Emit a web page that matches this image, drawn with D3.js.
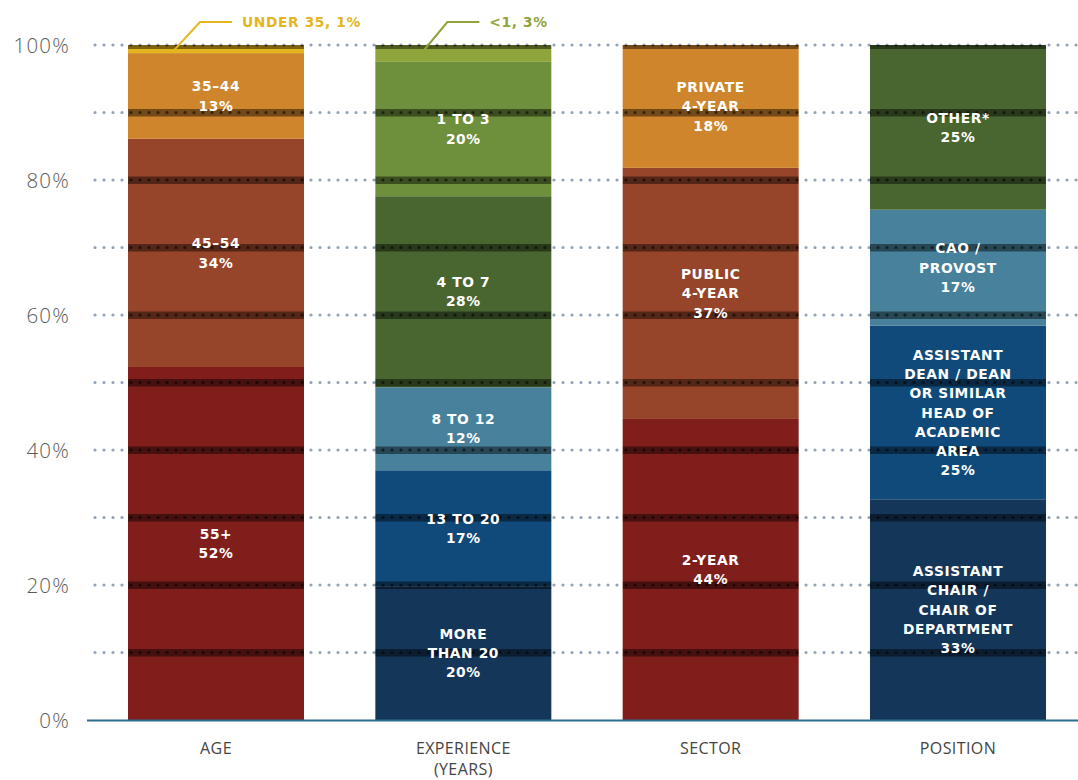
<!DOCTYPE html>
<html><head><meta charset="utf-8">
<script src="https://cdn.jsdelivr.net/npm/d3@7"></script>
<style>
body{margin:0;background:#fff;}
svg{display:block;}
</style></head>
<body>
<svg id="chart" width="1078" height="780"></svg>
<script>
// ---- DATA ----
const groups = ["AGE", "EXPERIENCE (YEARS)", "SECTOR", "POSITION"];
const groupLabels = [["AGE"], ["EXPERIENCE", "(YEARS)"], ["SECTOR"], ["POSITION"]];

const ageCategories = ["55+", "45–54", "35–44", "UNDER 35"];
const ageValues = [52.3, 33.8, 12.7, 1.2];
const ageLabels = [["55+", "52%"], ["45–54", "34%"], ["35–44", "13%"], null];

const expCategories = ["MORE THAN 20", "13 TO 20", "8 TO 12", "4 TO 7", "1 TO 3", "<1"];
const expValues = [19.8, 17.2, 12.3, 28.3, 19.9, 2.5];
const expLabels = [["MORE", "THAN 20", "20%"], ["13 TO 20", "17%"], ["8 TO 12", "12%"], ["4 TO 7", "28%"], ["1 TO 3", "20%"], null];

const sectorCategories = ["2-YEAR", "PUBLIC 4-YEAR", "PRIVATE 4-YEAR"];
const sectorValues = [44.6, 37.2, 18.2];
const sectorLabels = [["2-YEAR", "44%"], ["PUBLIC", "4-YEAR", "37%"], ["PRIVATE", "4-YEAR", "18%"]];

const positionCategories = ["CHAIR", "DEAN", "CAO", "OTHER"];
const positionValues = [32.7, 25.7, 17.2, 24.4];
const positionLabels = [["ASSISTANT", "CHAIR /", "CHAIR OF", "DEPARTMENT", "33%"],
  ["ASSISTANT", "DEAN / DEAN", "OR SIMILAR", "HEAD OF", "ACADEMIC", "AREA", "25%"],
  ["CAO /", "PROVOST", "17%"], ["OTHER*", "25%"]];

const ageColors = ["#7f1e1b", "#97452a", "#cf852b", "#e4b51f"];
const expColors = ["#143659", "#0f4a7a", "#48819c", "#4a6630", "#6e8f3b", "#8fa43b"];
const sectorColors = ["#7f1e1b", "#97452a", "#cf852b"];
const positionColors = ["#143659", "#0f4a7a", "#48819c", "#4a6630"];

const yTicks = [0, 20, 40, 60, 80, 100];
const gridValues = [10, 20, 30, 40, 50, 60, 70, 80, 90, 100];

const annotations = [
  {group: "AGE", text: "UNDER 35, 1%", color: "#e4b51f", value: 99.5},
  {group: "EXPERIENCE (YEARS)", text: "<1, 3%", color: "#8fa43b", value: 99.0}
];

// ---- BUILD ----
const allSeries = [
  {values: ageValues, labels: ageLabels, colors: ageColors},
  {values: expValues, labels: expLabels, colors: expColors},
  {values: sectorValues, labels: sectorLabels, colors: sectorColors},
  {values: positionValues, labels: positionLabels, colors: positionColors}
];

const LABEL_FONT = "'DejaVu Sans', sans-serif";
const svg = d3.select("#chart");
const y = d3.scaleLinear().domain([0, 100]).range([720, 45]);
const x = d3.scaleBand().domain(groups).range([92, 1082]).paddingInner(0.2884).paddingOuter(0.1456);

// grey dotted gridlines (background)
const gridG = svg.append("g");
gridValues.forEach(v => {
  gridG.append("line")
    .attr("x1", 95).attr("x2", 1078)
    .attr("y1", y(v)).attr("y2", y(v))
    .attr("stroke", "#8fa4b9").attr("stroke-width", 3.2)
    .attr("stroke-linecap", "round")
    .attr("stroke-dasharray", "0,9");
});

// bars
allSeries.forEach((s, gi) => {
  const g = groups[gi];
  let cum = 0;
  const segs = s.values.map((v, i) => {
    const seg = {y0: cum, y1: cum + v, color: s.colors[i], label: s.labels[i]};
    cum += v;
    return seg;
  });
  const total = cum;
  segs.forEach(sg => { sg.y0 = sg.y0 / total * 100; sg.y1 = sg.y1 / total * 100; });
  const bg = svg.append("g");
  const clipId = "clip" + gi;
  svg.append("clipPath").attr("id", clipId).append("rect")
    .attr("x", x(g)).attr("width", x.bandwidth())
    .attr("y", y(100)).attr("height", y(0) - y(100));
  bg.selectAll("rect.seg").data(segs).join("rect")
    .attr("class", "seg")
    .attr("x", x(g)).attr("width", x.bandwidth())
    .attr("y", d => y(d.y1)).attr("height", d => y(d.y0) - y(d.y1))
    .attr("fill", d => d.color);
  // dark bands over bars
  const band = bg.append("g").attr("clip-path", `url(#${clipId})`);
  gridValues.forEach(v => {
    band.append("rect")
      .attr("x", x(g)).attr("width", x.bandwidth())
      .attr("y", y(v) - 3.5).attr("height", 7.5)
      .attr("fill", "#000").attr("fill-opacity", 0.45);
    band.append("line")
      .attr("x1", 95).attr("x2", 1078)
      .attr("y1", y(v)).attr("y2", y(v))
      .attr("stroke", "#000").attr("stroke-opacity", 0.55).attr("stroke-width", 3.2)
      .attr("stroke-linecap", "round")
      .attr("stroke-dasharray", "0,9");
  });
  // labels
  const cx = x(g) + x.bandwidth() / 2;
  segs.forEach(sg => {
    if (!sg.label) return;
    const mid = y((sg.y0 + sg.y1) / 2);
    const n = sg.label.length;
    const lh = 19.3;
    const t = bg.append("text")
      .attr("text-anchor", "middle")
      .attr("fill", "#fff")
      .attr("font-family", LABEL_FONT)
      .attr("font-weight", 700)
      .attr("font-size", "13.8px")
      .attr("letter-spacing", "0.6px");
    sg.label.forEach((line, li) => {
      t.append("tspan").attr("x", cx)
        .attr("y", mid + (li - (n - 1) / 2) * lh + 5)
        .text(line);
    });
  });
});

// baseline
svg.append("line")
  .attr("x1", 87).attr("x2", 1078)
  .attr("y1", y(0) + 0.5).attr("y2", y(0) + 0.5)
  .attr("stroke", "#2a6e8e").attr("stroke-width", 2.2);

// y axis labels
const yAxis = d3.axisLeft(y).tickValues(yTicks).tickFormat(d => d + "%").tickSize(0).tickPadding(0);
const yg = svg.append("g").attr("transform", "translate(70,0)").call(yAxis);
yg.select(".domain").remove();
yg.selectAll("text")
  .attr("font-family", "'Open Sans', sans-serif")
  .attr("font-size", "20.5px")
  .attr("font-weight", 300)
  .attr("letter-spacing", "1.2px")
  .attr("fill", "#5a5a5a")
  .attr("dy", "0.35em");

// x axis labels (one text per line)
groups.forEach((g, gi) => {
  groupLabels[gi].forEach((line, li) => {
    svg.append("text")
      .attr("text-anchor", "middle")
      .attr("font-family", "'Open Sans', sans-serif")
      .attr("font-size", "16px")
      .attr("letter-spacing", "0.4px")
      .attr("fill", "#444")
      .attr("x", x(g) + x.bandwidth() / 2)
      .attr("y", 754 + li * 20.5).text(line);
  });
});

// annotations
annotations.forEach(a => {
  const x0 = x(a.group) + 44;
  const y0 = y(a.value) + 4;
  const elbowX = x0 + 28;
  const lineY = 22;
  svg.append("polyline")
    .attr("points", [[x0, y0], [elbowX, lineY], [elbowX + 32, lineY]].map(p => p.join(",")).join(" "))
    .attr("fill", "none").attr("stroke", a.color).attr("stroke-width", 2);
  svg.append("text")
    .attr("x", elbowX + 42).attr("y", lineY + 5)
    .attr("font-family", LABEL_FONT)
    .attr("font-weight", 700).attr("font-size", "13.8px")
    .attr("letter-spacing", "0.6px")
    .attr("fill", a.color).text(a.text);
});
</script>
</body></html>
